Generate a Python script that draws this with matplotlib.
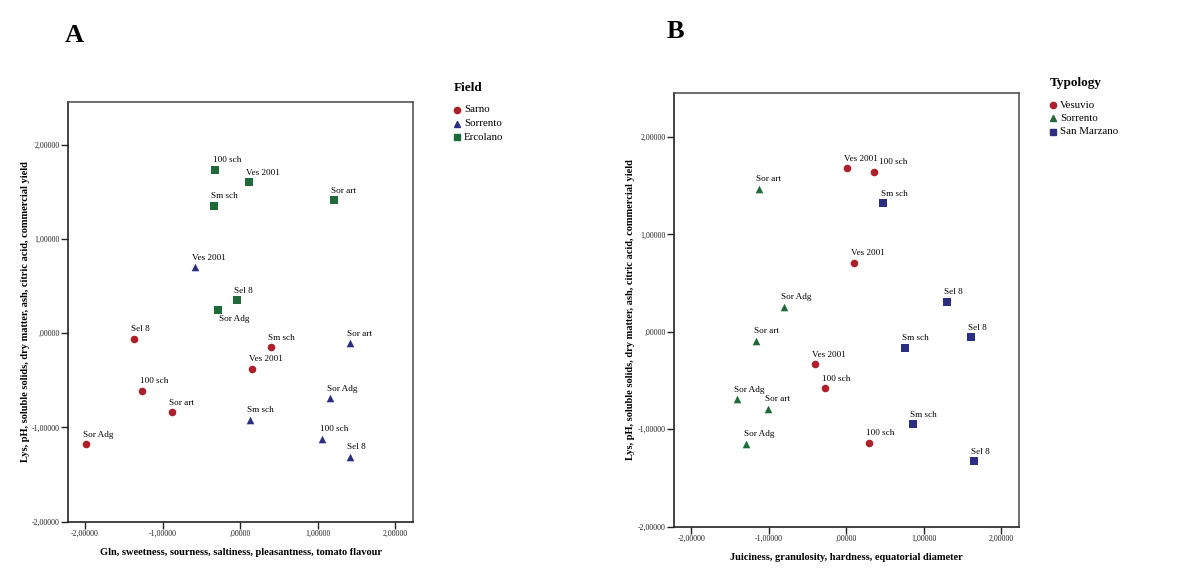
import matplotlib
matplotlib.use("Agg")
from matplotlib import pyplot as plt

plt.rcParams['font.family'] = ['Liberation Serif', 'DejaVu Serif']

red = '#AE1F2A'
green = '#1E6A38'
navy = '#2B2E82'

# panel A: Field
a_sarno_x = [-1.37, 0.40, 0.15, -1.26, -0.88, -1.99]
a_sarno_y = [-0.06, -0.15, -0.38, -0.61, -0.84, -1.18]
a_sarno_lab = ["Sel 8", "Sm sch", "Ves 2001", "100 sch", "Sor art", "Sor Adg"]

a_sorr_x = [-0.58, 1.42, 1.16, 0.13, 1.06, 1.42]
a_sorr_y = [0.70, -0.11, -0.69, -0.92, -1.12, -1.31]
a_sorr_lab = ["Ves 2001", "Sor art", "Sor Adg", "Sm sch", "100 sch", "Sel 8"]

a_erco_x = [-0.32, 0.11, -0.34, 1.21, -0.04, -0.29]
a_erco_y = [1.73, 1.60, 1.35, 1.41, 0.35, 0.25]
a_erco_lab = ["100 sch", "Ves 2001", "Sm sch", "Sor art", "Sel 8", "Sor Adg"]

# panel B: Typology
b_vesu_x = [0.01, 0.365, 0.10, -0.40, -0.28, 0.29]
b_vesu_y = [1.68, 1.64, 0.71, -0.335, -0.58, -1.14]
b_vesu_lab = ["Ves 2001", "100 sch", "Ves 2001", "Ves 2001", "100 sch", "100 sch"]

b_sorr_x = [-1.13, -0.81, -1.16, -1.41, -1.01, -1.29]
b_sorr_y = [1.47, 0.26, -0.09, -0.69, -0.79, -1.15]
b_sorr_lab = ["Sor art", "Sor Adg", "Sor art", "Sor Adg", "Sor art", "Sor Adg"]

b_sanm_x = [0.48, 1.30, 1.61, 0.76, 0.865, 1.65]
b_sanm_y = [1.32, 0.31, -0.055, -0.165, -0.95, -1.33]
b_sanm_lab = ["Sm sch", "Sel 8", "Sel 8", "Sm sch", "Sm sch", "Sel 8"]

ticks = [-2, -1, 0, 1, 2]
tick_labels = ["-2,00000", "-1,00000", ",00000", "1,00000", "2,00000"]


def draw_group(ax, xs, ys, labels, marker, color, below=(), right=()):
  ax.scatter(xs, ys, marker=marker, s=30, color=color, linewidths=0, zorder=3)
  for i, (x, y, t) in enumerate(zip(xs, ys, labels)):
    if i in below:
      ax.annotate(t, (x, y), xytext=(1, -4), textcoords='offset points',
                  ha='left', va='top', fontsize=6.6)
    elif i in right:
      ax.annotate(t, (x, y), xytext=(3, 4), textcoords='offset points',
                  ha='left', va='bottom', fontsize=6.6)
    else:
      ax.annotate(t, (x, y), xytext=(-2, 4), textcoords='offset points',
                  ha='left', va='bottom', fontsize=6.6)


def style_axes(ax, xlabel, ylabel, ylab_x, xlab_y):
  ax.set_xlim(-2.22, 2.23)
  ax.set_ylim(-2.0, 2.45)
  ax.set_xticks(ticks)
  ax.set_xticklabels(tick_labels)
  ax.set_yticks(ticks)
  ax.set_yticklabels(tick_labels)
  ax.tick_params(direction='out', length=5, width=1, labelsize=5.7, pad=1, colors='#222222')
  for s in ax.spines.values():
    s.set_color('#555555')
    s.set_linewidth(1.2)
  ax.spines['left'].set_color('#222222')
  ax.spines['bottom'].set_color('#222222')
  ax.set_xlabel(xlabel, fontsize=7.5, fontweight='bold')
  ax.set_ylabel(ylabel, fontsize=7.5, fontweight='bold')
  ax.yaxis.set_label_coords(ylab_x, 0.5)
  ax.xaxis.set_label_coords(0.5, xlab_y)


fig = plt.figure(figsize=(12, 5.82), dpi=100)

axA = fig.add_axes([0.0567, 0.1036, 0.2875, 0.721])
draw_group(axA, a_sarno_x, a_sarno_y, a_sarno_lab, 'o', red)
draw_group(axA, a_sorr_x, a_sorr_y, a_sorr_lab, '^', navy)
draw_group(axA, a_erco_x, a_erco_y, a_erco_lab, 's', green, below=(5,))
style_axes(axA, "Gln, sweetness, sourness, saltiness, pleasantness, tomato flavour",
           "Lys, pH, soluble solids, dry matter, ash, citric acid, commercial yield",
           -0.11, -0.062)

axB = fig.add_axes([0.562, 0.095, 0.287, 0.745])
draw_group(axB, b_vesu_x, b_vesu_y, b_vesu_lab, 'o', red, right=(1,))
draw_group(axB, b_sorr_x, b_sorr_y, b_sorr_lab, '^', green)
draw_group(axB, b_sanm_x, b_sanm_y, b_sanm_lab, 's', navy)
style_axes(axB, "Juiciness, granulosity, hardness, equatorial diameter",
           "Lys, pH, soluble solids, dry matter, ash, citric acid, commercial yield",
           -0.114, -0.060)

fig.text(74 / 1200, 1 - 36 / 582, "A", fontsize=19, fontweight='bold', ha='center', va='center')
fig.text(675 / 1200, 1 - 31 / 582, "B", fontsize=19, fontweight='bold', ha='center', va='center')


def legend_block(x0, y0, title, names, markers, colors):
  fig.text(x0 / 1200, 1 - y0 / 582, title, fontsize=9.5, fontweight='bold', ha='left', va='center')
  for k, (n, m, c) in enumerate(zip(names, markers, colors)):
    yy = y0 + 22 + k * 13.5
    fig.lines.append(plt.Line2D([(x0 + 3) / 1200], [1 - yy / 582], marker=m, color=c,
                                markersize=4.5, linestyle='none', transform=fig.transFigure))
    fig.text((x0 + 10) / 1200, 1 - yy / 582, n, fontsize=7.8, ha='left', va='center')


legend_block(454, 88, "Field", ["Sarno", "Sorrento", "Ercolano"], ['o', '^', 's'], [red, navy, green])
legend_block(1050, 83, "Typology", ["Vesuvio", "Sorrento", "San Marzano"], ['o', '^', 's'], [red, green, navy])

fig.savefig("out.png", dpi=100)
